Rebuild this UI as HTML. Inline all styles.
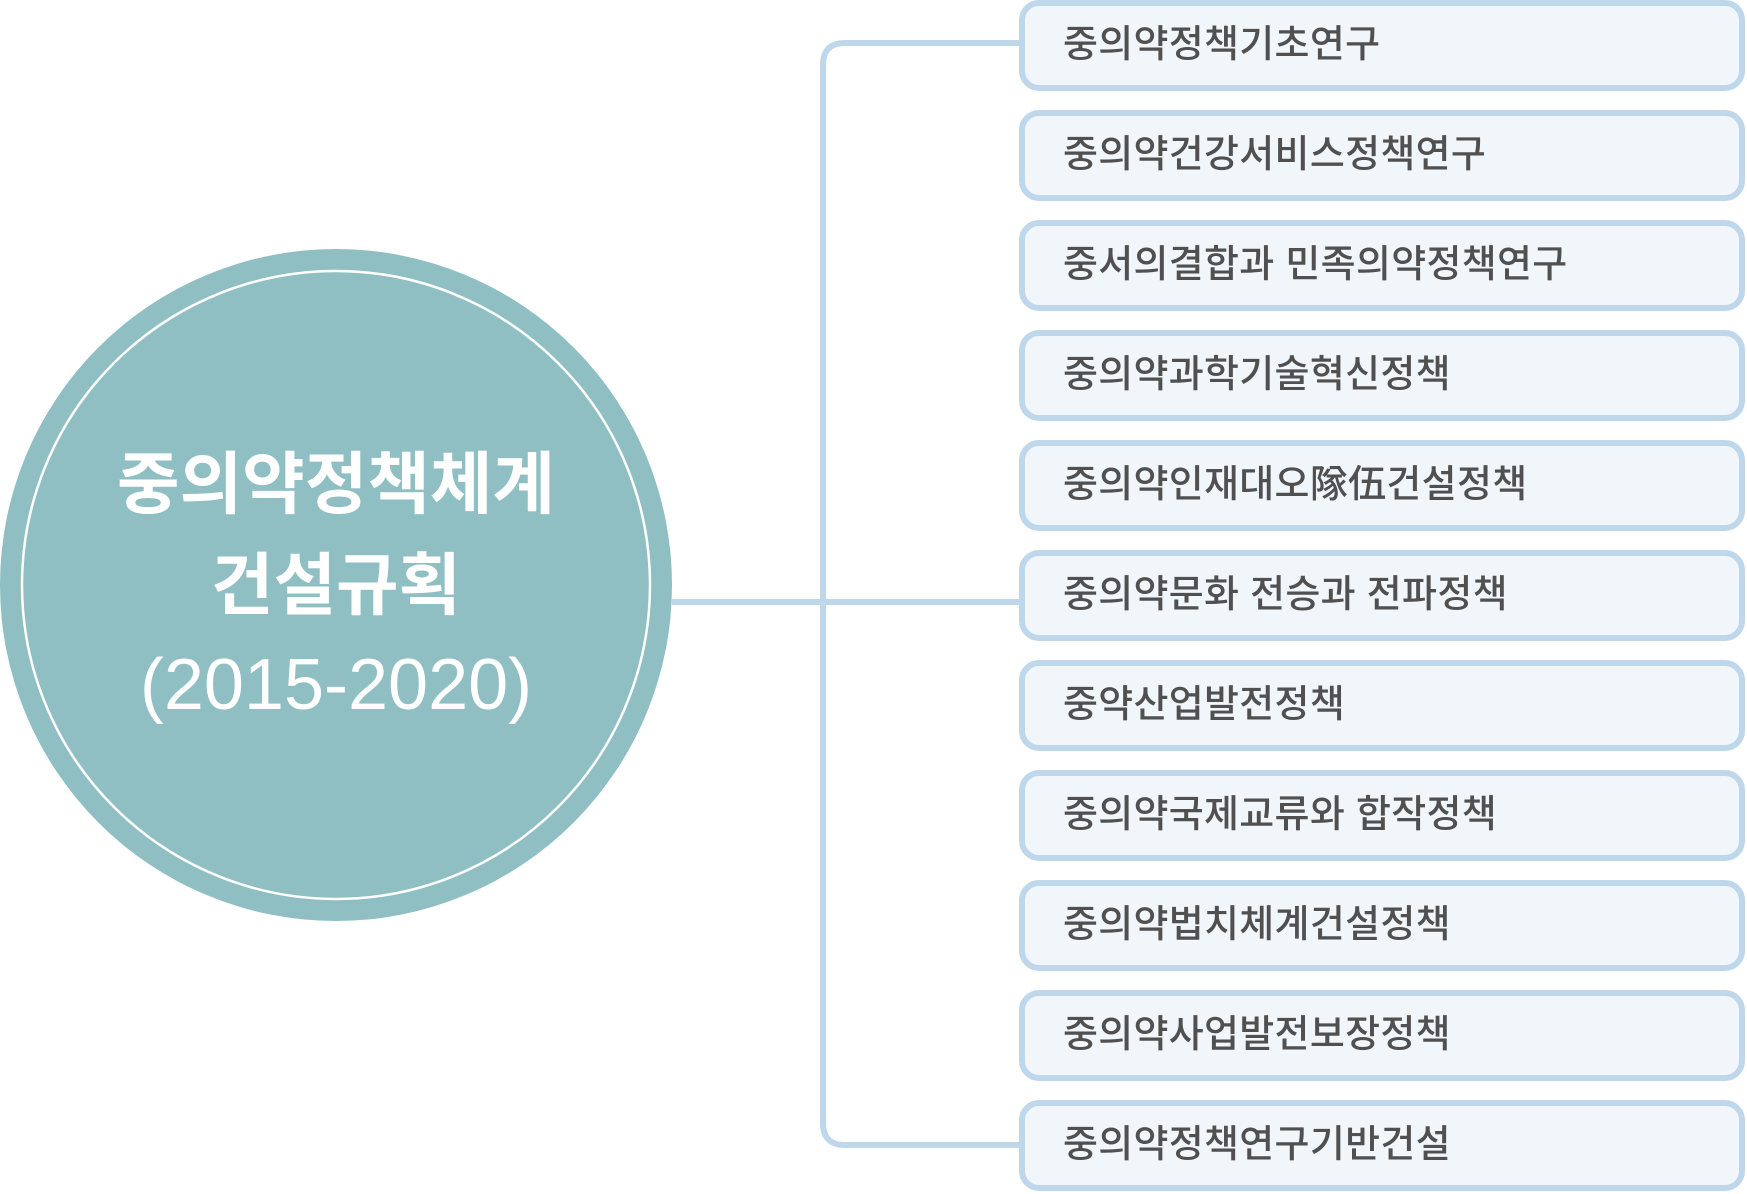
<!DOCTYPE html>
<html><head><meta charset="utf-8"><style>
body{margin:0;width:1747px;height:1194px;background:#fff;position:relative;overflow:hidden;font-family:"Liberation Sans","Noto Sans CJK KR",sans-serif}
.b{position:absolute;left:1019px;width:714px;height:79px;border:6px solid #bfd7ea;border-radius:20px;background:#f1f6fb;box-sizing:content-box}
.b span{position:absolute;left:38px;top:0;line-height:79px;font-size:38px;color:#505050;white-space:nowrap;font-weight:500;letter-spacing:0.3px}
.t{position:absolute;left:0;width:672px;text-align:center;color:#fff;font-weight:bold;font-size:68px;line-height:100px}
</style></head><body>
<svg width="1747" height="1194" style="position:absolute;left:0;top:0">
<circle cx="336" cy="585" r="336" fill="#8fbfc2"/>
<circle cx="336" cy="585" r="314" fill="none" stroke="#fff" stroke-width="2.5"/>
<path d="M672 602 H1022 M1022 43 H845 Q823 43 823 65 V1123 Q823 1145 845 1145 H1022" fill="none" stroke="#bfd7ea" stroke-width="6"/>
</svg>
<div class="t" style="top:435px">중의약정책체계</div>
<div class="t" style="top:536px">건설규획</div>
<div class="t" style="top:635px;font-weight:normal;font-size:72px">(2015-2020)</div>
<div class="b" style="top:0px"><span>중의약정책기초연구</span></div>
<div class="b" style="top:110px"><span>중의약건강서비스정책연구</span></div>
<div class="b" style="top:220px"><span>중서의결합과 민족의약정책연구</span></div>
<div class="b" style="top:330px"><span>중의약과학기술혁신정책</span></div>
<div class="b" style="top:440px"><span>중의약인재대오隊伍건설정책</span></div>
<div class="b" style="top:550px"><span>중의약문화 전승과 전파정책</span></div>
<div class="b" style="top:660px"><span>중약산업발전정책</span></div>
<div class="b" style="top:770px"><span>중의약국제교류와 합작정책</span></div>
<div class="b" style="top:880px"><span>중의약법치체계건설정책</span></div>
<div class="b" style="top:990px"><span>중의약사업발전보장정책</span></div>
<div class="b" style="top:1100px"><span>중의약정책연구기반건설</span></div>
</body></html>
